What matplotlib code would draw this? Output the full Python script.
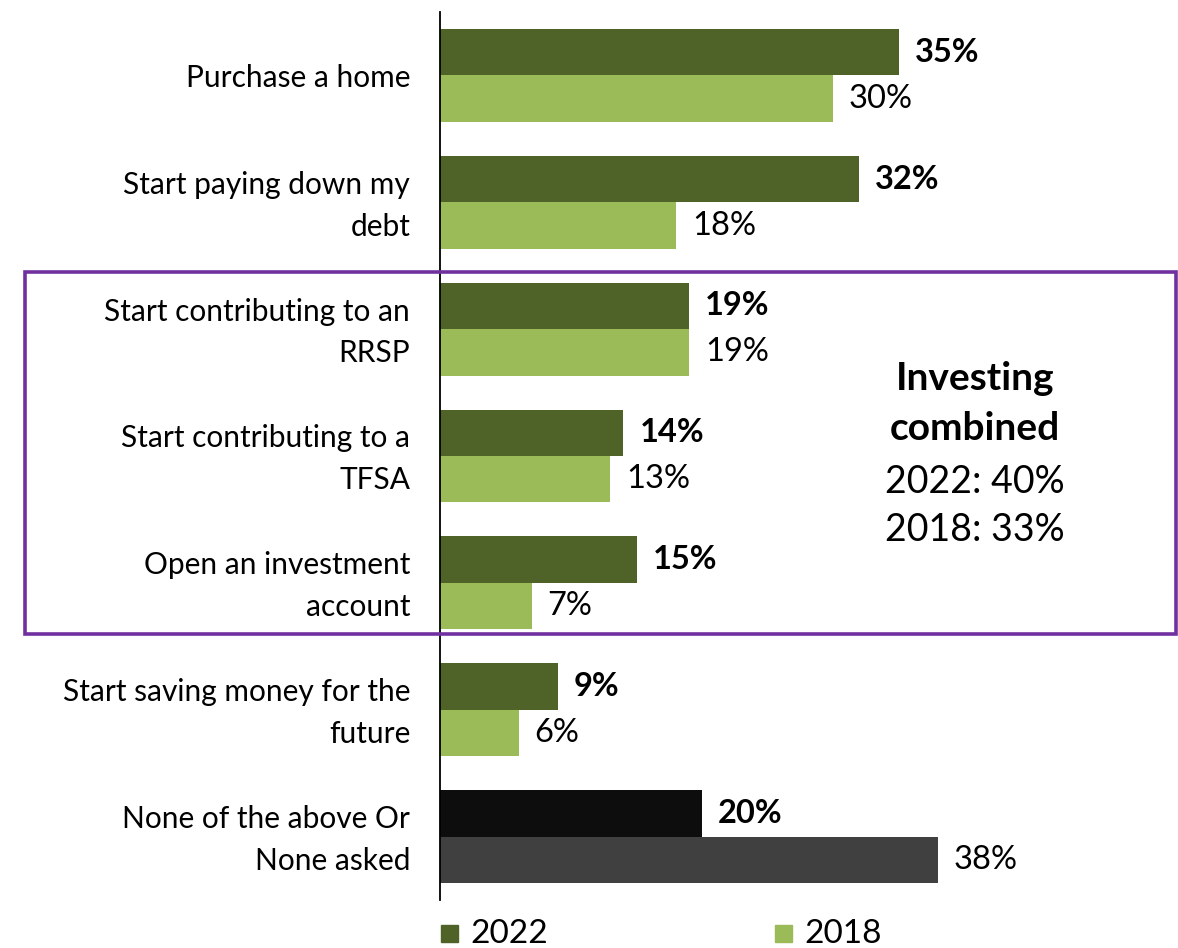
import matplotlib
matplotlib.use("Agg")
import matplotlib.pyplot as plt
from matplotlib.patches import Rectangle
from matplotlib.transforms import ScaledTranslation
import numpy as np

plt.rcParams['font.family'] = ['Lato', 'DejaVu Sans']

# data
categories = ["Purchase a home", "Start paying down my\ndebt",
              "Start contributing to an\nRRSP", "Start contributing to a\nTFSA",
              "Open an investment\naccount", "Start saving money for the\nfuture",
              "None of the above Or\nNone asked"]
vals_2022 = [35, 32, 19, 14, 15, 9, 20]
vals_2018 = [30, 18, 19, 13, 7, 6, 38]
series_names = ["2022", "2018"]
series_colors = ['#4F6228', '#9BBB59']

c22 = [series_colors[0]] * 6 + ['#0D0D0D']
c18 = [series_colors[1]] * 6 + ['#404040']

W, H = 1178, 948
fig = plt.figure(figsize=(W / 100, H / 100), dpi=100)
ax = fig.add_axes([440 / W, 48 / H, 736 / W, 888 / H])

y = np.arange(len(categories))
h = 0.366
ax.barh(y - h / 2, vals_2022, height=h, color=c22)
ax.barh(y + h / 2, vals_2018, height=h, color=c18)

ax.set_xlim(0, 736 / 13.1)
ax.set_ylim(len(categories) - 0.5, -0.5)

for i in range(len(categories)):
    ax.annotate(f"{vals_2022[i]}%", (vals_2022[i], y[i] - h / 2), xytext=(16, 0),
                textcoords='offset pixels', va='center', ha='left',
                fontsize=23.5, fontweight='bold')
    ax.annotate(f"{vals_2018[i]}%", (vals_2018[i], y[i] + h / 2), xytext=(16, 0),
                textcoords='offset pixels', va='center', ha='left', fontsize=23.5)

ax.set_yticks(y)
ax.set_yticklabels(categories, fontsize=21.5, ha='right', linespacing=1.6)
ax.tick_params(axis='y', length=0, pad=21.5)
# nudge the two-line category labels up a little
shift = ScaledTranslation(0, 6 / 100, fig.dpi_scale_trans)
for lab, name in zip(ax.get_yticklabels(), categories):
    if "\n" in name:
        lab.set_transform(lab.get_transform() + shift)
ax.set_xticks([])
for s in ['top', 'right', 'bottom']:
    ax.spines[s].set_visible(False)
ax.spines['left'].set_linewidth(1.3)

# purple box around investing items
fig.patches.append(Rectangle((25 / W, (H - 634) / H), 1151 / W, 362 / H,
                             transform=fig.transFigure, fill=False,
                             edgecolor='#7030A0', linewidth=2.6))

fig.text(975 / W, (H - 378) / H, "Investing", ha='center', va='center',
         fontsize=28, fontweight='bold')
fig.text(975 / W, (H - 428) / H, "combined", ha='center', va='center',
         fontsize=28, fontweight='bold')
fig.text(975 / W, (H - 482) / H, "2022: 40%", ha='center', va='center', fontsize=27)
fig.text(975 / W, (H - 530) / H, "2018: 33%", ha='center', va='center', fontsize=27)

# legend along the bottom
for k, (name, col) in enumerate(zip(series_names, series_colors)):
    x0 = 441 + k * 334
    fig.patches.append(Rectangle((x0 / W, (H - 942) / H), 17 / W, 17 / H,
                                 transform=fig.transFigure, color=col))
    fig.text((x0 + 29) / W, (H - 934) / H, name, ha='left', va='center', fontsize=24)

fig.savefig("out.png", dpi=100)
